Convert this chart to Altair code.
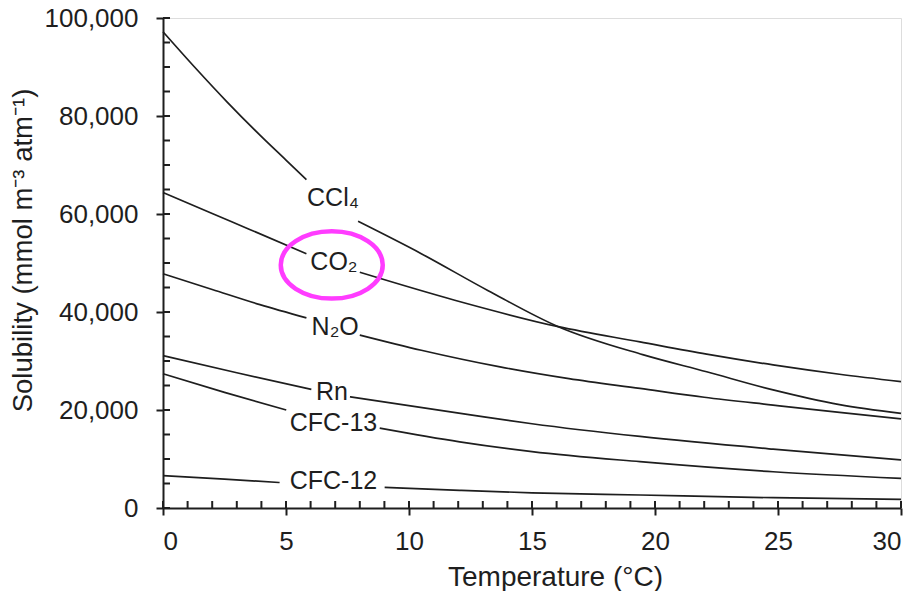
import altair as alt
import pandas as pd

# ---- data ----
gases = ["CCl₄", "CO₂", "N₂O", "Rn", "CFC-13", "CFC-12"]

# each curve is broken where its label sits: segment "a" (before label) and "b" (after)
ccl4_a_t = [0, 1.3, 2.6, 3.9, 5.0, 5.83]
ccl4_a_v = [97200, 89900, 82900, 76300, 71000, 67000]
ccl4_b_t = [7.93, 10.5, 13.2, 16.07, 19.5, 22.1, 24.8, 27.5, 30]
ccl4_b_v = [58500, 51900, 44400, 37000, 31300, 27800, 24100, 21100, 19300]

co2_a_t = [0, 2, 3.5, 5.83]
co2_a_v = [64400, 60100, 56900, 51900]
co2_b_t = [8.0, 11.86, 16.07, 19.39, 22.1, 24.8, 27.5, 30]
co2_b_v = [48100, 42400, 37000, 33900, 31400, 29200, 27300, 25800]

n2o_a_t = [0, 2, 3.94, 5.83]
n2o_a_v = [47800, 44600, 41500, 38800]
n2o_b_t = [8.0, 10.5, 13.7, 16.5, 19.39, 22, 24.8, 27.5, 30]
n2o_b_v = [35300, 32200, 28800, 26400, 24400, 22600, 21000, 19500, 18200]

rn_a_t = [0, 3, 6.03]
rn_a_v = [31100, 27600, 24200]
rn_b_t = [7.6, 12.5, 15, 19.39, 24.8, 30]
rn_b_v = [22700, 19000, 17200, 14600, 12000, 9800]

cfc13_a_t = [0, 2.5, 5.01]
cfc13_a_v = [27400, 23600, 20000]
cfc13_b_t = [8.81, 12.06, 15, 19.39, 24.8, 30]
cfc13_b_v = [16300, 13500, 11500, 9450, 7400, 6050]

cfc12_a_t = [0, 2.5, 4.74]
cfc12_a_v = [6600, 5900, 5200]
cfc12_b_t = [9.01, 12.06, 15, 19.39, 24.8, 30]
cfc12_b_v = [4200, 3600, 3100, 2650, 2100, 1770]

# label positions (temperature, solubility)
label_t = [6.91, 6.95, 7.0, 6.87, 6.93, 6.93]
label_v = [63200, 50200, 36900, 23600, 17300, 5500]

# highlight ellipse around CO2 label
ellipse_t = [6.86]
ellipse_v = [49600]

x_major = [0, 5, 10, 15, 20, 25, 30]
x_minor = list(range(0, 31))
y_major = [0, 20000, 40000, 60000, 80000, 100000]
y_minor = list(range(0, 100001, 5000))

# ---- build tables ----
segments = [
    (gases[0], ccl4_a_t, ccl4_a_v, ccl4_b_t, ccl4_b_v),
    (gases[1], co2_a_t, co2_a_v, co2_b_t, co2_b_v),
    (gases[2], n2o_a_t, n2o_a_v, n2o_b_t, n2o_b_v),
    (gases[3], rn_a_t, rn_a_v, rn_b_t, rn_b_v),
    (gases[4], cfc13_a_t, cfc13_a_v, cfc13_b_t, cfc13_b_v),
    (gases[5], cfc12_a_t, cfc12_a_v, cfc12_b_t, cfc12_b_v),
]
rows = []
for g, at, av, bt, bv in segments:
    for t, v in zip(at, av):
        rows.append({"gas": g, "seg": g + "_a", "T": t, "S": v})
    for t, v in zip(bt, bv):
        rows.append({"gas": g, "seg": g + "_b", "T": t, "S": v})
lines_df = pd.DataFrame(rows)
labels_df = pd.DataFrame({"gas": gases, "T": label_t, "S": label_v})
ell_df = pd.DataFrame({"T": ellipse_t, "S": ellipse_v})
xminor_df = pd.DataFrame({"T": x_minor})
yminor_df = pd.DataFrame({"S": y_minor})

INK = "#1e1e1e"
FONT = "Liberation Sans"

xscale = alt.Scale(domain=[0, 30], nice=False, zero=False)
yscale = alt.Scale(domain=[0, 100000], nice=False)

x_axis = alt.Axis(
    values=x_major, title="Temperature (°C)", grid=False,
    tickSize=7, tickWidth=2, tickColor=INK, domainWidth=2, domainColor=INK,
    labelFontSize=26, labelFont=FONT, labelColor=INK, labelPadding=13,
    titleFontSize=28, titleFont=FONT, titleColor=INK, titleFontWeight="normal",
    titleX=392, titleY=77, titleBaseline="alphabetic", titleAlign="center",
)
y_axis = alt.Axis(
    values=y_major, format=",d", title="Solubility (mmol m⁻³ atm⁻¹)", grid=False,
    tickSize=7, tickWidth=2, tickColor=INK, domainWidth=2, domainColor=INK,
    labelFontSize=26, labelFont=FONT, labelColor=INK, labelPadding=18,
    titleFontSize=27.5, titleFont=FONT, titleColor=INK, titleFontWeight="normal",
    titleX=-132, titleY=232, titleAngle=270, titleBaseline="alphabetic", titleAlign="center",
)

lines = alt.Chart(lines_df).mark_line(color=INK, strokeWidth=1.7, interpolate="monotone").encode(
    x=alt.X("T:Q", scale=xscale, axis=x_axis),
    y=alt.Y("S:Q", scale=yscale, axis=y_axis),
    detail="seg:N",
)

labels = alt.Chart(labels_df).mark_text(
    font=FONT, fontSize=25, color=INK, align="center", baseline="middle"
).encode(
    x=alt.X("T:Q", scale=xscale),
    y=alt.Y("S:Q", scale=yscale),
    text="gas:N",
)

ellipse = alt.Chart(ell_df).mark_point(
    shape="M-1,0A1,0.66,0,1,1,1,0A1,0.66,0,1,1,-1,0Z",
    size=10400, filled=False, stroke="#ff3cff", strokeWidth=4.5, opacity=1,
).encode(
    x=alt.X("T:Q", scale=xscale),
    y=alt.Y("S:Q", scale=yscale),
)

xminor = alt.Chart(xminor_df).mark_rule(color=INK, strokeWidth=2).encode(
    x=alt.X("T:Q", scale=xscale),
    y=alt.value(490), y2=alt.value(483),
)
yminor = alt.Chart(yminor_df).mark_rule(color=INK, strokeWidth=2).encode(
    y=alt.Y("S:Q", scale=yscale),
    x=alt.value(0), x2=alt.value(7),
)

chart = alt.layer(lines, xminor, yminor, labels, ellipse).properties(
    width=738, height=490,
    autosize=alt.AutoSizeParams(type="none"),
    padding={"left": 155, "top": 10, "right": 5, "bottom": 83},
).configure_view(stroke=None).configure(background="white")

chart.save("out.html", embed_options={"renderer": "svg", "actions": False})
